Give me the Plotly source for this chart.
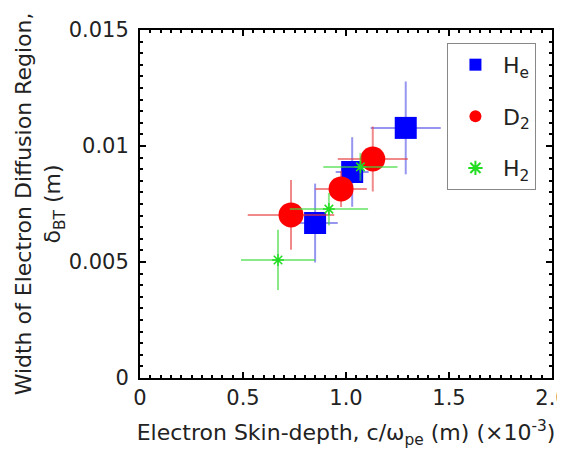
import plotly.graph_objects as go

# He (blue squares)
he_x = [0.85, 1.03, 1.29]
he_y = [0.00668, 0.00888, 0.01078]
he_xerr = [0.11, 0.08, 0.17]
he_yerr = [0.0017, 0.0015, 0.0020]

# D2 (red circles)
d2_x = [0.733, 0.976, 1.13]
d2_y = [0.00703, 0.00815, 0.00944]
d2_xerr = [0.21, 0.125, 0.17]
d2_yerr = [0.0015, 0.00078, 0.0014]

# H2 (green asterisks)
h2_x = [0.67, 0.917, 1.07]
h2_y = [0.00509, 0.00728, 0.0091]
h2_xerr = [0.18, 0.19, 0.18]
h2_yerr = [0.0013, 0.0007, 0.0006]

FONT = "DejaVu Sans"

fig = go.Figure()

def add(name, x, y, xe, ye, color, ecolor, symbol, size, group):
    fig.add_trace(go.Scatter(
        x=x, y=y, mode="markers", name=name, legendgroup=group,
        marker=dict(symbol=symbol, size=size, color=color,
                    line=dict(width=1.5 if "asterisk" in symbol else 0, color=color)),
        error_x=dict(type="data", array=xe, visible=True, color=ecolor, thickness=2, width=0),
        error_y=dict(type="data", array=ye, visible=True, color=ecolor, thickness=2, width=0),
    ))

add("H<sub>e</sub>", he_x, he_y, he_xerr, he_yerr, "#0000ff", "rgba(80,80,230,0.6)", "square", 22, "a")
add("D<sub>2</sub>", d2_x, d2_y, d2_xerr, d2_yerr, "#ff0000", "rgba(230,60,60,0.6)", "circle", 25, "b")
add("H<sub>2</sub>", h2_x, h2_y, h2_xerr, h2_yerr, "#22dd22", "rgba(60,220,60,0.6)", "asterisk-open", 10, "c")

fig.update_layout(
    width=557, height=441,
    margin=dict(l=132, r=13, t=22, b=71),
    paper_bgcolor="white", plot_bgcolor="white",
    font=dict(family=FONT, color="#222222"),
    showlegend=True,
    legend=dict(x=0.745, y=0.963, xanchor="left", yanchor="top",
                bordercolor="#888888", borderwidth=1, bgcolor="white",
                font=dict(size=22, family=FONT), tracegroupgap=20,
                itemsizing="constant", itemwidth=45),
    xaxis=dict(range=[0, 2.0], tickvals=[0, 0.5, 1.0, 1.5, 2.0],
               ticktext=["0", "0.5", "1.0", "1.5", "2.0"],
               ticks="inside", ticklen=6, tickwidth=1.5, tickcolor="black",
               showline=True, linecolor="black", linewidth=2, mirror="allticks",
               showgrid=False, zeroline=False, automargin=False,
               ticklabeloverflow="allow",
               tickfont=dict(size=21, family=FONT),
               minor=dict(dtick=0.05, ticks="inside", ticklen=3, tickcolor="black", showgrid=False),
               title=dict(text="Electron Skin-depth, c/ω<sub>pe</sub> (m) (×10<sup>-3</sup>)",
                          font=dict(size=22, family=FONT), standoff=20)),
    yaxis=dict(range=[0, 0.015], tickvals=[0, 0.005, 0.01, 0.015],
               ticktext=["0", "0.005", "0.01", "0.015"],
               ticks="inside", ticklen=6, tickwidth=1.5, tickcolor="black",
               showline=True, linecolor="black", linewidth=2, mirror="allticks",
               showgrid=False, zeroline=False, automargin=False,
               ticklabeloverflow="allow", ticklabelstandoff=5,
               tickfont=dict(size=21, family=FONT),
               minor=dict(dtick=0.0005, ticks="inside", ticklen=3, tickcolor="black", showgrid=False),
               title=dict(text="Width of Electron Diffusion Region,<br>δ<sub>BT</sub> (m)",
                          font=dict(size=22, family=FONT), standoff=0)),
)

fig.write_html("out.html")
